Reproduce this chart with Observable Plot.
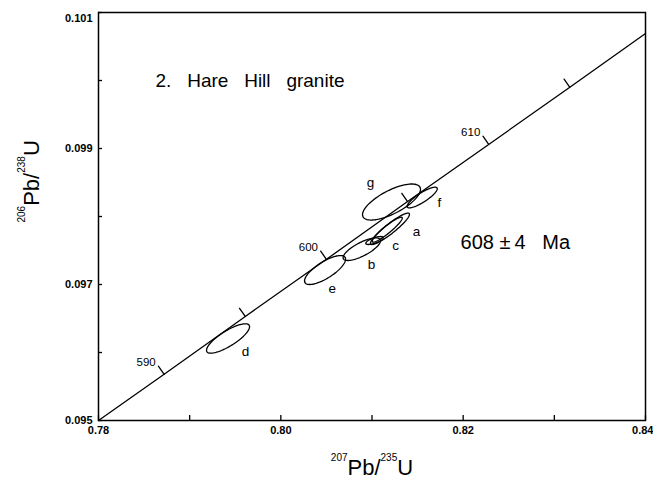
<!DOCTYPE html>
<html><head><meta charset="utf-8">
<script src="https://cdn.jsdelivr.net/npm/d3@7"></script>
<script src="https://cdn.jsdelivr.net/npm/@observablehq/plot@0.6"></script>
<style>body{margin:0;background:#fff}</style>
</head><body><div id="chart"></div>
<script>
// Concordia curve (207Pb/235U, 206Pb/238U)
const concordiaX = [0.78, 0.7872, 0.7961, 0.8050, 0.8139, 0.8228, 0.8317, 0.84];
const concordiaY = [0.0950, 0.09568, 0.09653, 0.09737, 0.09822, 0.09906, 0.09990, 0.10069];

// Age marks on the concordia (Ma)
const ageMa = [590, 595, 600, 605, 610, 615];
const ageX = [0.7872, 0.7961, 0.8050, 0.8139, 0.8228, 0.8317];
const ageY = [0.09568, 0.09653, 0.09737, 0.09822, 0.09906, 0.09990];
const ageLabelled = [590, 600, 610];

// Error ellipses: centre, half extents and correlation
const ellId  = ["g", "f", "a", "a-inner", "c", "b", "e", "d"];
const ellCX  = [0.81214, 0.81551, 0.81197, 0.81167, 0.81027, 0.80888, 0.80485, 0.79421];
const ellCY  = [0.098213, 0.098279, 0.097819, 0.097806, 0.097647, 0.097519, 0.097213, 0.096206];
const ellSX  = [0.00318, 0.00165, 0.00214, 0.00165, 0.00095, 0.00205, 0.00225, 0.00236];
const ellSY  = [0.000265, 0.000152, 0.000231, 0.000184, 0.0000588, 0.000166, 0.000213, 0.000216];
const ellRho = [0.70, 0.85, 0.92, 0.93, 0.70, 0.75, 0.75, 0.80];

// Ellipse letter labels
const fracText = ["g", "f", "a", "c", "b", "e", "d"];
const fracX = [0.80984, 0.81740, 0.81488, 0.81258, 0.80995, 0.80563, 0.79612];
const fracY = [0.098504, 0.098210, 0.097784, 0.097574, 0.097290, 0.096937, 0.096019];

// Axis ticks
const xTicks = [0.78, 0.79, 0.80, 0.81, 0.82, 0.83, 0.84];
const xLabelTicks = [0.78, 0.80, 0.82];
const xLastTick = [0.84];
const yTicks = [0.095, 0.096, 0.097, 0.098, 0.099, 0.100, 0.101];
const yLabelTicks = [0.095, 0.097, 0.099];
const yTopTick = [0.101];

// Texts
const titleText = "2.\u00a0\u00a0 Hare\u00a0\u00a0 Hill\u00a0\u00a0 granite";
const titleX = 0.78625, titleY = 0.09999;
const ageText = "608 \u00b1\u20094\u00a0\u00a0\u00a0Ma";
const ageTextX = 0.81971, ageTextY = 0.097618;
const xLabel = "207Pb/235U";
const yLabel = "206Pb/238U";

// Build tables
const concordia = concordiaX.map((x, i) => ({x, y: concordiaY[i]}));
const ages = ageMa.map((a, i) => ({age: a, x: ageX[i], y: ageY[i]}));
const ellipsePts = [];
ellId.forEach((id, k) => {
  const r = ellRho[k], q = Math.sqrt(1 - r * r);
  for (let deg = 0; deg <= 360; deg += 4) {
    const t = deg * Math.PI / 180;
    ellipsePts.push({id, x: ellCX[k] + ellSX[k] * Math.cos(t),
      y: ellCY[k] + ellSY[k] * (r * Math.cos(t) + q * Math.sin(t))});
  }
});
const fracs = fracText.map((t, i) => ({t, x: fracX[i], y: fracY[i]}));

const tickFont = "'Liberation Sans Narrow', 'Liberation Sans', Arial, sans-serif";
const mainFont = "'Liberation Sans', Arial, sans-serif";
const tickStyle = {label: null, fontFamily: tickFont, fontWeight: "bold", fontSize: 11};
const fmt2 = d => d.toFixed(2), fmt3 = d => d.toFixed(3);

const tickLine = {draw(context, l) { context.moveTo(0, 0); context.lineTo(0, -l); }};

const chart = Plot.plot({
  width: 653, height: 491,
  marginLeft: 98, marginRight: 8, marginTop: 12, marginBottom: 71,
  style: {fontFamily: mainFont, fontSize: "10px", background: "white", color: "black"},
  x: {domain: [0.78, 0.84]},
  y: {domain: [0.095, 0.101]},
  marks: [
    Plot.frame({stroke: "black", strokeWidth: 1.5}),
    // inward tick marks
    Plot.axisX({ticks: xTicks, tickSize: -5, strokeWidth: 1.3, tickFormat: () => "", label: null}),
    Plot.axisY({ticks: yTicks, tickSize: -4, strokeWidth: 1.3, tickFormat: () => "", label: null}),
    // tick labels
    Plot.axisX({ticks: xLabelTicks, tickSize: 0, tickPadding: 6, tickFormat: fmt2, ...tickStyle}),
    Plot.axisX({ticks: xLastTick, tickSize: 0, tickPadding: 6, tickFormat: fmt2, textAnchor: "end", dx: 8, ...tickStyle}),
    Plot.axisY({ticks: yLabelTicks, tickSize: 0, tickPadding: 6, tickFormat: fmt3, ...tickStyle}),
    Plot.axisY({ticks: yTopTick, tickSize: 0, tickPadding: 6, tickFormat: fmt3, dy: 6, ...tickStyle}),
    Plot.line(ellipsePts, {x: "x", y: "y", z: "id", stroke: "black", strokeWidth: 1.3}),
    Plot.line(concordia, {x: "x", y: "y", stroke: "black", strokeWidth: 1.3}),
    Plot.vector(ages, {x: "x", y: "y", length: 10, rotate: -35, anchor: "start",
      shape: tickLine, stroke: "black", strokeWidth: 1.3}),
    Plot.text(ages.filter(d => ageLabelled.includes(d.age)), {x: "x", y: "y", text: d => String(d.age),
      dx: -18, dy: -12, fontSize: 11.5}),
    Plot.text(fracs, {x: "x", y: "y", text: "t", fontSize: 13.5}),
    Plot.text([titleText], {x: () => titleX, y: () => titleY, text: d => d, textAnchor: "start", fontSize: 19}),
    Plot.text([ageText], {x: () => ageTextX, y: () => ageTextY, text: d => d, textAnchor: "start", fontSize: 20}),
    Plot.text([xLabel], {frameAnchor: "bottom", dy: 54, text: d => d, fontSize: 22}),
    Plot.text([yLabel], {frameAnchor: "left", dx: -67, dy: 6, rotate: -90, text: d => d, fontSize: 22})
  ]
});
document.getElementById("chart").appendChild(chart);

// Superscript isotope numbers in the axis titles
function superscript(label, parts) {
  d3.select(chart).selectAll("text").filter(function() { return this.textContent === label; })
    .each(function() {
      const t = d3.select(this);
      t.text(null);
      parts.forEach(([s, sup]) => {
        t.append("tspan").attr("font-size", sup ? 10 : 22).attr("dy", sup ? -14 : 14).text(s);
      });
    });
}
superscript(xLabel, [["207", true], ["Pb/", false], ["235", true], ["U", false]]);
superscript(yLabel, [["206", true], ["Pb/", false], ["238", true], ["U", false]]);
</script>
</body></html>
